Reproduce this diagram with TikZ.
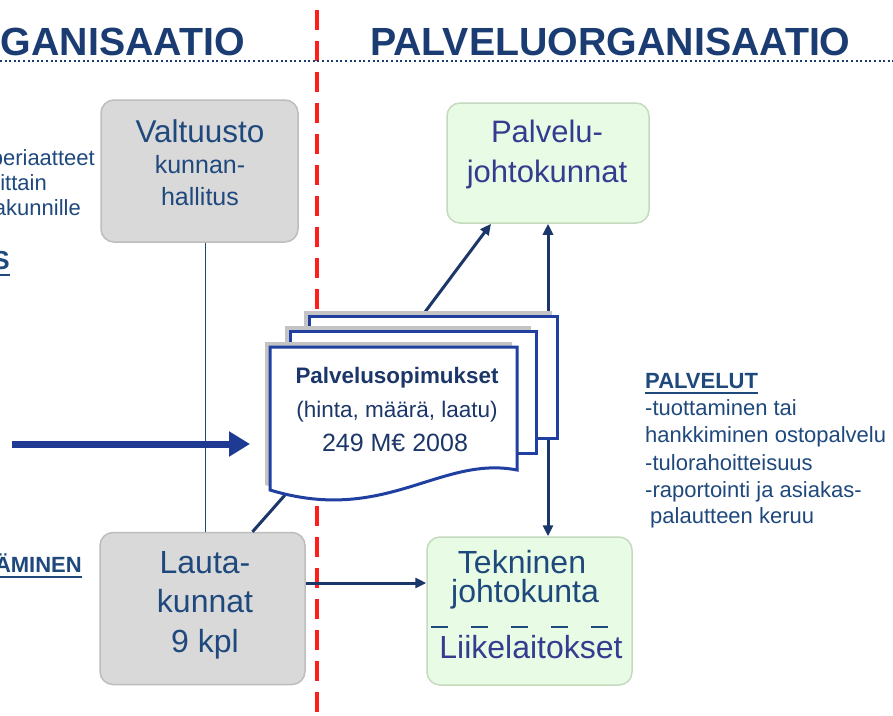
\documentclass[tikz,border=0pt]{standalone}
\usepackage{fontspec}
\setmainfont{Liberation Sans}
\usetikzlibrary{arrows.meta}
\definecolor{hdr}{HTML}{1A3C72}
\definecolor{txtnavy}{HTML}{1F497D}
\definecolor{txtpurp}{HTML}{353C90}
\definecolor{arrnavy}{HTML}{1B3668}
\definecolor{bigblue}{HTML}{1F3A93}
\definecolor{docblue}{HTML}{1F40A0}
\definecolor{redline}{HTML}{FF1E1E}
\definecolor{grayfill}{HTML}{D9D9D9}
\definecolor{grayedge}{HTML}{BDBDBD}
\definecolor{greenfill}{HTML}{E8FBE4}
\definecolor{greenedge}{HTML}{C5DABF}
\definecolor{shadowgray}{HTML}{C4C4C4}
\tikzset{
  hdrtext/.style={font=\fontsize{39.3}{40}\selectfont\bfseries, text=hdr, inner sep=0pt},
  sidetext/.style={font=\fontsize{22}{24}\selectfont, text=txtnavy, inner sep=0pt},
  sidebold/.style={font=\fontsize{22}{24}\selectfont\bfseries, text=txtnavy, inner sep=0pt},
  graybox/.style={draw=grayedge, line width=1.5pt, fill=grayfill, rounded corners=13pt, inner sep=0pt},
  greenbox/.style={draw=greenedge, line width=1.5pt, fill=greenfill, rounded corners=13pt, inner sep=0pt},
  boxtxt/.style={text=txtnavy, inner sep=0pt, anchor=base},
  boxtxtp/.style={text=txtpurp, inner sep=0pt, anchor=base},
  doctxt/.style={text=arrnavy, inner sep=0pt, anchor=base},
  page/.style={draw=docblue, line width=3pt, fill=white, line join=miter},
  pageshadow/.style={fill=shadowgray, draw=none},
  arr/.style={draw=arrnavy, line width=3pt, -{Triangle[length=11pt,width=10pt]}},
  dblarr/.style={draw=arrnavy, line width=3pt, {Triangle[length=11pt,width=10pt]}-{Triangle[length=11pt,width=10pt]}},
  plainline/.style={draw=arrnavy, line width=3pt},
  thinline/.style={draw=txtnavy, line width=1pt},
  bigarr/.style={draw=bigblue, line width=7pt, -{Triangle[length=21pt,width=24pt]}},
  uline/.style={draw=txtnavy, line width=1.8pt}
}
\begin{document}
\begin{tikzpicture}[x=1pt,y=-1pt]
\useasboundingbox (0,0) rectangle (893,715);
\clip (0,0) rectangle (893,715);
\fill[white] (0,0) rectangle (893,715);

% red divider
\draw[redline, line width=4pt, dash pattern=on 20pt off 11pt] (317,10) -- (317,715);
% header dotted line
\draw[hdr, line width=1.6pt, dash pattern=on 2pt off 2.6pt] (0,61) -- (893,61);

% headers
\node[hdrtext, anchor=base east] (hleft) at (245,55) {ORGANISAATIO};
\node[hdrtext, anchor=base west] (hright) at (370,55) {PALVELUORGANISAATIO};

% left side texts
\node[sidetext, anchor=base east] (l1) at (95,165) {periaatteet};
\node[sidetext, anchor=base east] (l2) at (47,190) {ittain};
\node[sidetext, anchor=base east] (l3) at (81,215) {akunnille};
\node[sidebold, font=\fontsize{26}{28}\selectfont\bfseries, anchor=base east] (l4) at (10,269) {S};
\draw[uline] (0,275) -- (10,275);
\node[sidebold, anchor=base east] (l5) at (82,572) {ÄMINEN};
\draw[uline] (0,577) -- (82,577);

% PALVELUT block
\node[sidebold, anchor=base west] (pal) at (645,388) {PALVELUT};
\draw[uline] ([yshift=-5pt]pal.base west) -- ([yshift=-5pt]pal.base east);
\node[sidetext, anchor=base west] (p1) at (645,415) {-tuottaminen tai};
\node[sidetext, anchor=base west] (p2) at (645,442) {hankkiminen ostopalvelu};
\node[sidetext, anchor=base west] (p3) at (645,470) {-tulorahoitteisuus};
\node[sidetext, anchor=base west] (p4) at (645,497) {-raportointi ja asiakas-};
\node[sidetext, anchor=base west] (p5) at (650,523) {palautteen keruu};

% boxes
\node[graybox, minimum width=197pt, minimum height=142pt] (valt) at (199.5,171) {};
\node[graybox, minimum width=205pt, minimum height=152pt] (laut) at (202.5,608.5) {};
\node[greenbox, minimum width=202pt, minimum height=120pt] (palv) at (548,163) {};
\node[greenbox, minimum width=205pt, minimum height=148pt] (tek) at (529.5,611) {};

% box texts
\node[boxtxt, font=\fontsize{31.5}{31}\selectfont] (v1) at (200,142) {Valtuusto};
\node[boxtxt, font=\fontsize{25}{25}\selectfont] (v2) at (200,173) {kunnan-};
\node[boxtxt, font=\fontsize{25}{25}\selectfont] (v3) at (200,205) {hallitus};

\node[boxtxt, font=\fontsize{32}{32}\selectfont] (a1) at (205,573) {Lauta-};
\node[boxtxt, font=\fontsize{32}{32}\selectfont] (a2) at (205,612) {kunnat};
\node[boxtxt, font=\fontsize{32}{32}\selectfont] (a3) at (205,652) {9 kpl};

\node[boxtxtp, font=\fontsize{31}{31}\selectfont] (pv1) at (547,142) {Palvelu-};
\node[boxtxtp, font=\fontsize{31}{31}\selectfont] (pv2) at (547,182) {johtokunnat};

\node[boxtxt, font=\fontsize{32}{32}\selectfont] (t1) at (522,573) {Tekninen};
\node[boxtxt, font=\fontsize{32}{32}\selectfont] (t2) at (525,602) {johtokunta};
\draw[txtnavy, line width=1.8pt, dash pattern=on 17pt off 23pt] (431,627) -- (630,627);
\node[boxtxtp, font=\fontsize{32}{32}\selectfont] (t3) at (531,658) {Liikelaitokset};

% connectors
\coordinate (vline) at (205,0);
\draw[thinline] (valt.south -| vline) -- (laut.north -| vline);
\coordinate (yrow) at (0,583);
\draw[arr] (laut.east |- yrow) -- (tek.west |- yrow);
\draw[dblarr] (palv.south) -- (palv.south |- tek.north);
\coordinate (backtop) at (425,312);
\draw[arr] (backtop) -- ([xshift=-57pt]palv.south);
\coordinate (docfoot) at (285,495);
\draw[plainline] ([xshift=50pt]laut.north) -- (docfoot);
\coordinate (bigstart) at (12,444);
\coordinate (bigend) at (250,444);
\draw[bigarr] (bigstart) -- (bigend);

% document stack
\fill[pageshadow] (304,311) rectangle (552,433);
\draw[page] (309,316) rectangle (557,438);
\fill[pageshadow] (285,326) rectangle (531,448);
\draw[page] (290,331) rectangle (536,453);
\fill[pageshadow] (265,342) -- (512,342) -- (512,465) .. controls (435,450) and (380,520) .. (265,485) -- cycle;
\draw[page] (270,347) -- (517,347) -- (517,470) .. controls (440,455) and (385,525) .. (270,490) -- cycle;
\node[inner sep=0pt, minimum width=247pt, minimum height=143pt] (doc) at (393.5,418.5) {};

\node[doctxt, font=\fontsize{22.4}{23}\selectfont\bfseries] (d1) at (397,383) {Palvelusopimukset};
\node[doctxt, font=\fontsize{22.5}{23}\selectfont] (d2) at (397,417) {(hinta, määrä, laatu)};
\node[doctxt, font=\fontsize{25}{25}\selectfont] (d3) at (395,451) {249 M€ 2008};
\end{tikzpicture}
\end{document}
